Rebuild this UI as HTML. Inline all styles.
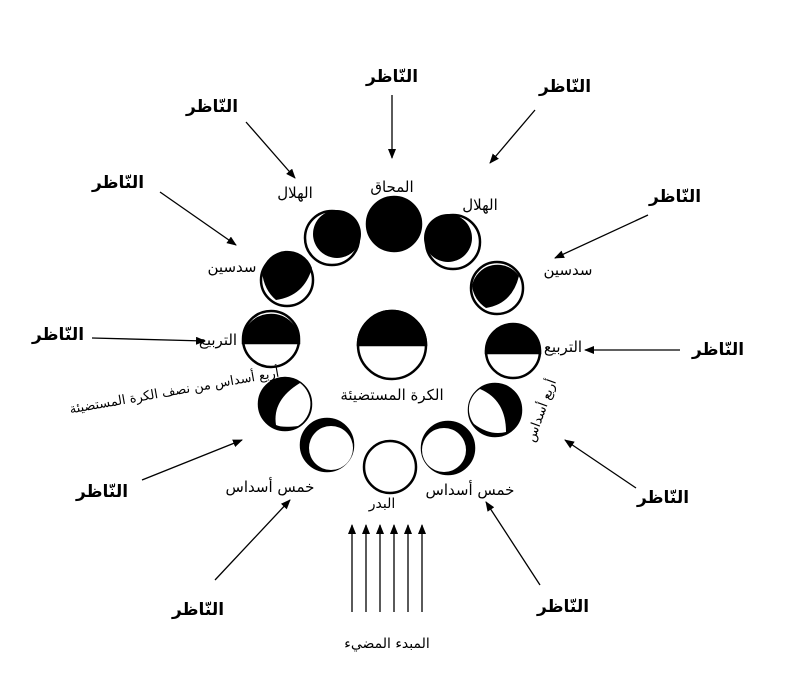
<!DOCTYPE html>
<html><head><meta charset="utf-8"><style>body{margin:0;background:#fff}svg{display:block}text{font-family:"DejaVu Sans","Liberation Sans",sans-serif;fill:#000}</style></head><body>
<svg width="787" height="693" viewBox="0 0 787 693">
<defs><marker id="a" markerWidth="10" markerHeight="8" refX="9" refY="4" orient="auto" markerUnits="userSpaceOnUse"><path d="M0,0 L10,4 L0,8 Z"/></marker></defs>
<g stroke="#000" stroke-width="2.5">
<circle cx="394" cy="224" r="27" fill="#000"/>
<circle cx="332" cy="238" r="27" fill="#fff"/><circle cx="337" cy="234" r="24" fill="#000" stroke="none"/>
<circle cx="453" cy="242" r="27" fill="#fff"/><circle cx="448" cy="238" r="24" fill="#000" stroke="none"/>
<circle cx="287" cy="280" r="26" fill="#fff"/><path d="M262,272 A26,26 0 0 1 312,268 Q304,296 276,300 Q264,290 262,272Z" fill="#000" stroke="none"/>
<circle cx="497" cy="288" r="26" fill="#fff"/><path d="M472,286 A26,26 0 0 1 519,276 Q512,304 486,308 Q474,300 472,286Z" fill="#000" stroke="none"/>
<circle cx="271" cy="339" r="28" fill="#fff"/><path d="M243,343 A28,28 0 0 1 299,343Z" fill="#000"/>
<circle cx="513" cy="351" r="27" fill="#fff"/><path d="M486,353 A27,27 0 0 1 540,353Z" fill="#000"/>
<circle cx="392" cy="345" r="34" fill="#fff"/><path d="M358,345 A34,34 0 0 1 426,345Z" fill="#000"/>
<circle cx="285" cy="404" r="26" fill="#000"/><path d="M300,383 A26,26 0 0 1 298,426 Q282,428 276,425 Q272,400 300,383Z" fill="#fff" stroke="none"/>
<circle cx="495" cy="410" r="26" fill="#000"/><path d="M480,389 Q506,400 506,432 Q490,436 474,424 A24,24 0 0 1 480,389Z" fill="#fff" stroke="none"/>
<circle cx="327" cy="445" r="26" fill="#000"/><circle cx="331" cy="448" r="22" fill="#fff" stroke="none"/>
<circle cx="448" cy="448" r="26" fill="#000"/><circle cx="444" cy="450" r="22" fill="#fff" stroke="none"/>
<circle cx="390" cy="467" r="26" fill="#fff"/>
</g>
<g stroke="#000" stroke-width="1.3" marker-end="url(#a)" fill="none">
<line x1="392" y1="95" x2="392" y2="158"/>
<line x1="246" y1="122" x2="295" y2="178"/>
<line x1="535" y1="110" x2="490" y2="163"/>
<line x1="160" y1="192" x2="236" y2="245"/>
<line x1="648" y1="215" x2="555" y2="258"/>
<line x1="92" y1="338" x2="205" y2="341"/>
<line x1="680" y1="350" x2="585" y2="350"/>
<line x1="142" y1="480" x2="242" y2="440"/>
<line x1="636" y1="488" x2="565" y2="440"/>
<line x1="215" y1="580" x2="290" y2="500"/>
<line x1="540" y1="585" x2="486" y2="502"/>
<line x1="352" y1="612" x2="352" y2="525"/>
<line x1="366" y1="612" x2="366" y2="525"/>
<line x1="380" y1="612" x2="380" y2="525"/>
<line x1="394" y1="612" x2="394" y2="525"/>
<line x1="408" y1="612" x2="408" y2="525"/>
<line x1="422" y1="612" x2="422" y2="525"/>
</g>
<g font-size="17" text-anchor="middle" font-weight="bold">
<text x="392" y="82">النّاظر</text>
<text x="212" y="112">النّاظر</text>
<text x="565" y="92">النّاظر</text>
<text x="118" y="188">النّاظر</text>
<text x="675" y="202">النّاظر</text>
<text x="58" y="340">النّاظر</text>
<text x="718" y="355">النّاظر</text>
<text x="102" y="497">النّاظر</text>
<text x="663" y="503">النّاظر</text>
<text x="198" y="615">النّاظر</text>
<text x="563" y="612">النّاظر</text>
</g>
<g font-size="15" text-anchor="middle">
<text x="392" y="192">المحاق</text>
<text x="295" y="198">الهلال</text>
<text x="480" y="210">الهلال</text>
<text x="232" y="272">سدسين</text>
<text x="568" y="275">سدسين</text>
<text x="218" y="345">التربيع</text>
<text x="563" y="352">التربيع</text>
<text x="392" y="400">الكرة المستضيئة</text>
<text x="0" y="0" font-size="13" transform="translate(175,395) rotate(-10)">أربع أسداس من نصف الكرة المستضيئة</text>
<text x="0" y="0" font-size="13" transform="translate(545,412) rotate(-70)">أربع أسداس</text>
<text x="270" y="492">خمس أسداس</text>
<text x="470" y="495">خمس أسداس</text>
<text x="382" y="508" font-size="14">البدر</text>
<text x="387" y="648" font-size="14">المبدء المضيء</text>
</g>
</svg>
</body></html>
